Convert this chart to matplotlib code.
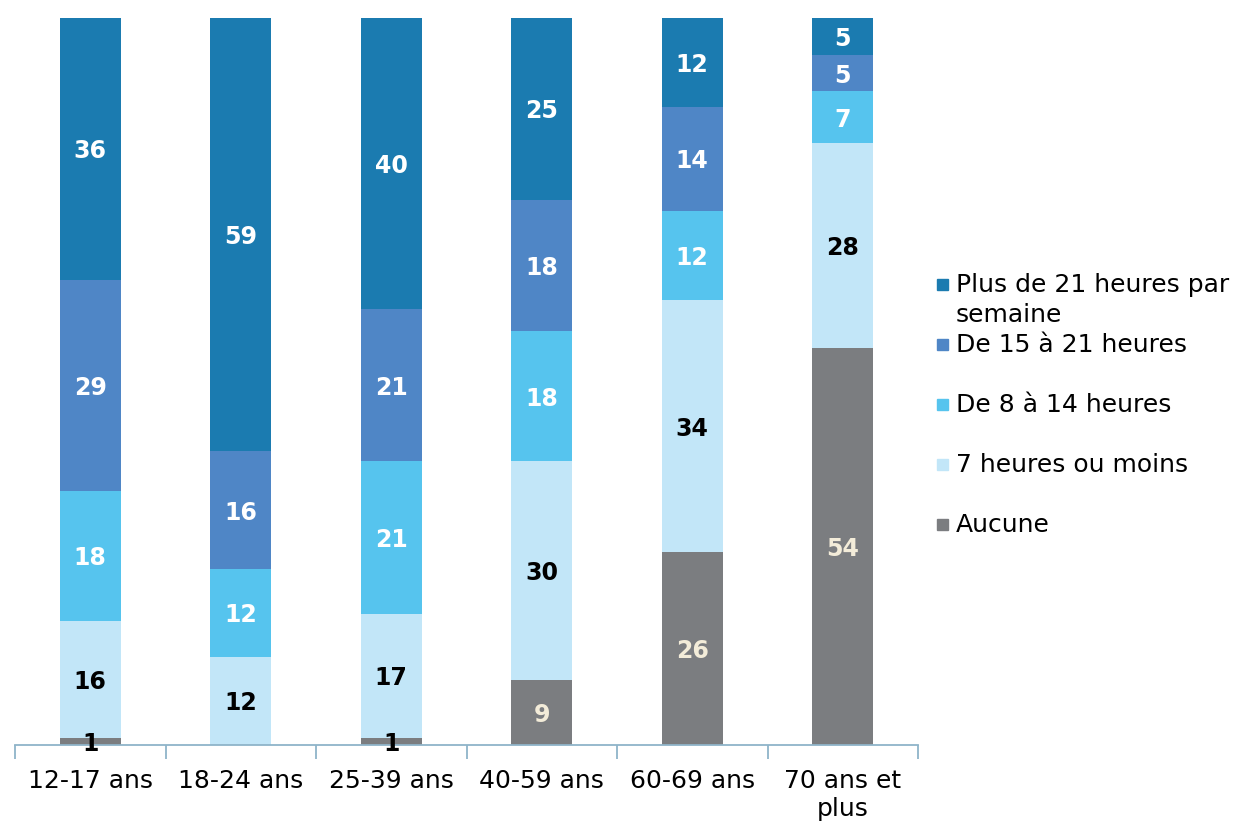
import matplotlib
matplotlib.use("Agg")
import matplotlib.pyplot as plt
import numpy as np
from matplotlib.patches import Rectangle

plt.rcParams["font.family"] = ["DejaVu Sans"]

categories = ["12-17 ans", "18-24 ans", "25-39 ans", "40-59 ans", "60-69 ans", "70 ans et\nplus"]
series_names = [
    "Aucune",
    "7 heures ou moins",
    "De 8 à 14 heures",
    "De 15 à 21 heures",
    "Plus de 21 heures par\nsemaine",
]
aucune = [1, 0, 1, 9, 26, 54]
moins_7h = [16, 12, 17, 30, 34, 28]
h8_14 = [18, 12, 21, 18, 12, 7]
h15_21 = [29, 16, 21, 18, 14, 5]
plus_21h = [36, 59, 40, 25, 12, 5]

colors = ["#7b7d80", "#c2e6f8", "#56c4ee", "#4f86c6", "#1b7bb0"]
label_colors = ["#f3ecd9", "black", "white", "white", "white"]

data = np.array([aucune, moins_7h, h8_14, h15_21, plus_21h], dtype=float)
shares = data / data.sum(axis=0) * 100

fig = plt.figure(figsize=(12.33, 8.22), dpi=100)
ax = fig.add_axes([15 / 1233, 1 - 745 / 822, 903 / 1233, 727 / 822])

x = np.arange(len(categories))
bottom = np.zeros(len(categories))
for i, name in enumerate(series_names):
    ax.bar(x, shares[i], 0.405, bottom=bottom, color=colors[i], linewidth=0)
    for j in range(len(categories)):
        if data[i, j] > 0:
            lc = label_colors[i]
            if i == 0 and data[i, j] < 3:
                lc = "black"
            ax.text(x[j], bottom[j] + shares[i, j] / 2, f"{int(data[i, j])}",
                    ha="center", va="center_baseline", fontsize=17,
                    fontweight="bold", color=lc)
    bottom += shares[i]

ax.set_xlim(-0.5, len(categories) - 0.5)
ax.set_ylim(0, 100)
for s in ["top", "right", "left"]:
    ax.spines[s].set_visible(False)
ax.spines["bottom"].set_color("#8fb4c9")
ax.spines["bottom"].set_linewidth(1.3)
ax.set_yticks([])
ax.set_xticks(np.arange(-0.5, len(categories), 1.0))
ax.set_xticklabels([])
ax.set_xticks(x, minor=True)
ax.set_xticklabels(categories, minor=True, fontsize=18, linespacing=1.25)
ax.tick_params(axis="x", which="major", length=10, width=1.3, color="#8fb4c9")
ax.tick_params(axis="x", which="minor", length=0, pad=17)

# legend drawn by hand so the marker sits on the first line of each entry
for k, i in enumerate(range(len(series_names) - 1, -1, -1)):
    base = 292 + 60 * k
    fig.patches.append(Rectangle((937 / 1233, 1 - (base - 2) / 822), 11 / 1233, 11 / 822,
                                 transform=fig.transFigure, color=colors[i]))
    lines = series_names[i].split("\n")
    for n, line in enumerate(lines):
        fig.text(956 / 1233, 1 - (base + 30 * n) / 822, line, ha="left",
                 va="baseline", fontsize=18)

fig.savefig("out.png", dpi=100)
